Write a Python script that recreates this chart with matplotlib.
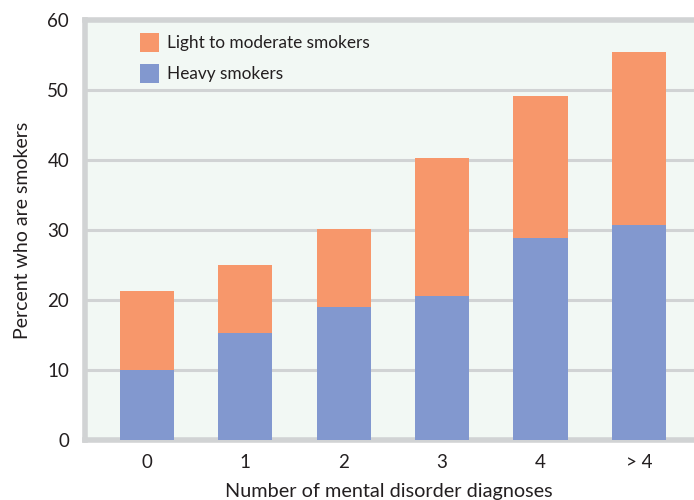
import matplotlib
matplotlib.use("Agg")
import matplotlib.pyplot as plt
from matplotlib.patches import Patch

categories = ["0", "1", "2", "3", "4", "> 4"]
heavy = [10.0, 15.3, 19.0, 20.6, 28.9, 30.7]
total = [21.3, 25.0, 30.1, 40.3, 49.1, 55.4]
light = [t - h for t, h in zip(total, heavy)]

series_labels = ["Light to moderate smokers", "Heavy smokers"]
y_ticks = [0, 10, 20, 30, 40, 50, 60]

c_light = "#f7976b"
c_heavy = "#8298cf"
c_bg = "#f2f8f4"
c_frame = "#d1d3d4"
c_text = "#231f20"

plt.rcParams["font.family"] = ["Lato", "DejaVu Sans"]

fig = plt.figure(figsize=(6.94, 5.0), dpi=100)
ax = fig.add_axes([84.5 / 694, 0.12, 1 - 84.5 / 694, 0.84])
ax.set_facecolor(c_bg)

x = list(range(len(categories)))
ax.bar(x, heavy, width=0.55, color=c_heavy, zorder=3)
ax.bar(x, light, width=0.55, bottom=heavy, color=c_light, zorder=3)

ax.set_xlim(-0.635, 5.56)
ax.set_ylim(0, 60)
ax.set_yticks(y_ticks)
ax.set_xticks(x)
ax.set_xticklabels(categories)
ax.tick_params(axis="both", length=0, labelsize=13.5, colors=c_text)
ax.tick_params(axis="y", pad=11)
ax.tick_params(axis="x", pad=10)

for v in y_ticks[1:-1]:
    ax.axhline(v, color=c_frame, lw=2.2, zorder=1)

for side in ["left", "top", "bottom"]:
    ax.spines[side].set_color(c_frame)
    ax.spines[side].set_linewidth(4)
ax.spines["right"].set_visible(False)

ax.set_xlabel("Number of mental disorder diagnoses", fontsize=14.3, color=c_text, labelpad=9)
ax.set_ylabel("Percent who are smokers", fontsize=14, color=c_text, labelpad=12)

handles = [Patch(facecolor=c_light), Patch(facecolor=c_heavy)]
leg = ax.legend(handles, series_labels, loc="upper left", frameon=False,
                fontsize=12.4, handlelength=1.1, handleheight=1.3,
                handletextpad=0.45, labelspacing=0.72, borderaxespad=0,
                borderpad=0, labelcolor=c_text)
leg.set_bbox_to_anchor((140 / 694, (500 - 33) / 500), transform=fig.transFigure)

fig.savefig("out.png", dpi=100)
